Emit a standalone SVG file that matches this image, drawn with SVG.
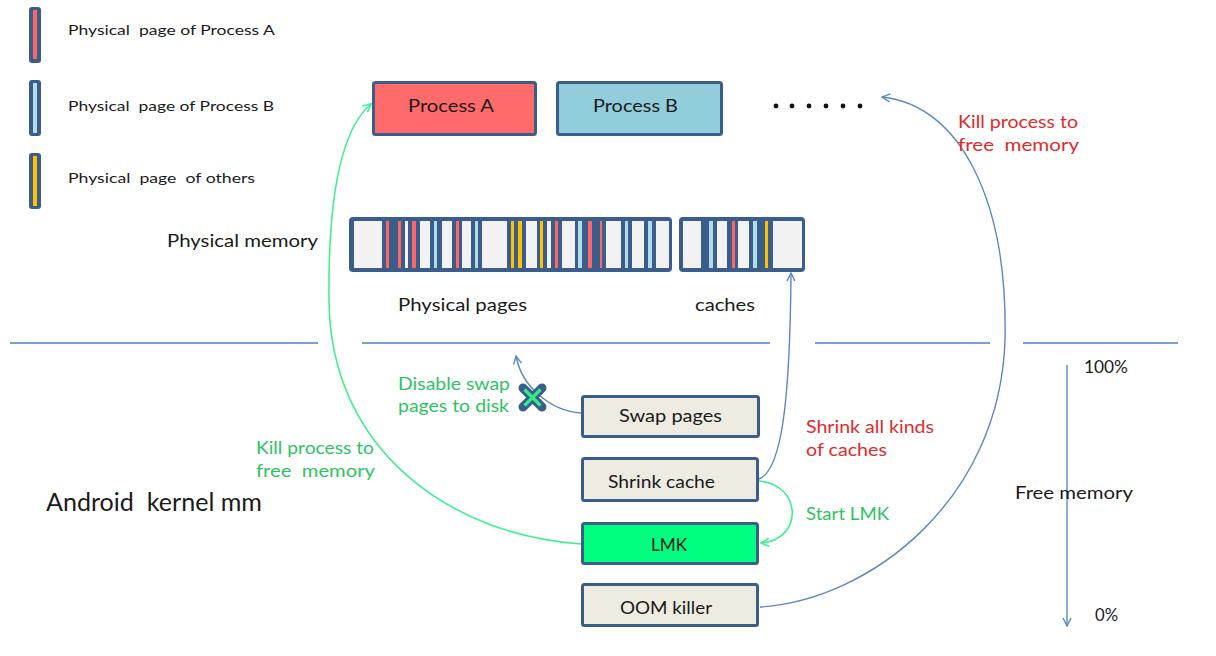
<svg xmlns="http://www.w3.org/2000/svg" width="1216" height="656" viewBox="0 0 1216 656">
  <style>
    text { font-family: Lato, "Open Sans", "Liberation Sans", sans-serif; fill: #1a1a1a; white-space: pre; }
    .leg { font-size: 14px; }
    .lbl { font-size: 17.5px; }
    .big { font-size: 25px; }
    .red { fill: #de2b2b; }
    .grn { fill: #2ec462; }
    .box { stroke: #3b5d8b; stroke-width: 3; }
    .proc-a { fill: #ff6a6a; }
    .proc-b { fill: #92cddc; }
    .plain { fill: #eeece1; }
    .lmk { fill: #00ff80; }
    .bar { fill: #3b5d8b; }
    .cell { fill: #f2f2f2; }
    .pa { fill: #ff6666; }
    .pb { fill: #b0dde9; }
    .po { fill: #ffc000; }
    .blue { fill: none; stroke: #5b87c5; stroke-width: 1.4; }
    .green { fill: none; stroke: #40f090; stroke-width: 1.6; }
    .rule { stroke: #4f81bd; stroke-width: 1.3; }
  </style>
  <defs>
    <marker id="arrow-blue" viewBox="0 0 10 10" refX="9" refY="5" markerWidth="10" markerHeight="10" markerUnits="userSpaceOnUse" orient="auto">
      <path d="M1,1 L9,5 L1,9" fill="none" stroke="#5b87c5" stroke-width="1.4"/>
    </marker>
    <marker id="arrow-green" viewBox="0 0 10 10" refX="9" refY="5" markerWidth="10" markerHeight="10" markerUnits="userSpaceOnUse" orient="auto">
      <path d="M1,1 L9,5 L1,9" fill="none" stroke="#40f090" stroke-width="1.6"/>
    </marker>
  </defs>

  <rect width="1216" height="656" fill="#ffffff"/>

  <!-- legend -->
  <g id="legend">
    <rect x="29" y="7" width="12" height="56" rx="3" class="bar"/>
    <rect x="33" y="10" width="4" height="49" class="pa"/>
    <text x="68" y="35" class="leg" xml:space="preserve" textLength="207" lengthAdjust="spacingAndGlyphs">Physical  page of Process A</text>
    <rect x="29" y="80" width="12" height="56" rx="3" class="bar"/>
    <rect x="33" y="83" width="4" height="50" class="pb"/>
    <text x="68" y="111" class="leg" xml:space="preserve" textLength="206" lengthAdjust="spacingAndGlyphs">Physical  page of Process B</text>
    <rect x="29" y="153" width="12" height="56" rx="3" class="bar"/>
    <rect x="33" y="156" width="4" height="50" class="po"/>
    <text x="68" y="183" class="leg" xml:space="preserve" textLength="187" lengthAdjust="spacingAndGlyphs">Physical  page  of others</text>
  </g>

  <!-- processes -->
  <g id="process-a">
    <rect x="373.5" y="82.5" width="162" height="52" rx="2" class="box proc-a"/>
    <text x="408" y="112" class="lbl" textLength="86" lengthAdjust="spacingAndGlyphs">Process A</text>
  </g>
  <g id="process-b">
    <rect x="557.5" y="82.5" width="164" height="52" rx="2" class="box proc-b"/>
    <text x="593" y="112" class="lbl" textLength="85" lengthAdjust="spacingAndGlyphs">Process B</text>
  </g>
  <g id="more-processes" fill="#111">
    <circle cx="776" cy="106" r="2.4"/>
    <circle cx="792" cy="106" r="2.4"/>
    <circle cx="809" cy="106" r="2.4"/>
    <circle cx="826" cy="106" r="2.4"/>
    <circle cx="843" cy="106" r="2.4"/>
    <circle cx="860" cy="106" r="2.4"/>
  </g>

  <!-- physical memory -->
  <g id="physical-memory">
    <text x="167" y="247" class="lbl" textLength="151" lengthAdjust="spacingAndGlyphs">Physical memory</text>
    <rect x="349" y="217" width="323" height="55" rx="4" class="bar"/>
    <g class="cell">
      <rect x="354" y="221" width="28" height="47"/>
      <rect x="405" y="221" width="3" height="47"/>
      <rect x="420" y="221" width="10" height="47"/>
      <rect x="442" y="221" width="10" height="47"/>
      <rect x="462" y="221" width="9" height="47"/>
      <rect x="482" y="221" width="25" height="47"/>
      <rect x="526" y="221" width="11" height="47"/>
      <rect x="547" y="221" width="4" height="47"/>
      <rect x="562" y="221" width="13" height="47"/>
      <rect x="606" y="221" width="15" height="47"/>
      <rect x="632" y="221" width="12" height="47"/>
      <rect x="656" y="221" width="13" height="47"/>
    </g>
    <g class="pa">
      <rect x="386" y="221" width="3" height="47"/>
      <rect x="398" y="221" width="3" height="47"/>
      <rect x="412" y="221" width="4" height="47"/>
      <rect x="456" y="221" width="3" height="47"/>
      <rect x="555" y="221" width="3" height="47"/>
      <rect x="588" y="221" width="4" height="47"/>
      <rect x="600" y="221" width="2" height="47"/>
    </g>
    <g class="pb">
      <rect x="434" y="221" width="3" height="47"/>
      <rect x="475" y="221" width="3" height="47"/>
      <rect x="578" y="221" width="4" height="47"/>
      <rect x="625" y="221" width="3" height="47"/>
      <rect x="648" y="221" width="4" height="47"/>
    </g>
    <g class="po">
      <rect x="511" y="221" width="3" height="47"/>
      <rect x="518" y="221" width="4" height="47"/>
      <rect x="540" y="221" width="3" height="47"/>
    </g>
    <text x="398" y="311" class="lbl" textLength="129" lengthAdjust="spacingAndGlyphs">Physical pages</text>
  </g>

  <g id="caches">
    <rect x="679" y="217" width="126" height="55" rx="4" class="bar"/>
    <g class="cell">
      <rect x="683" y="221" width="18" height="47"/>
      <rect x="717" y="221" width="10" height="47"/>
      <rect x="738" y="221" width="11" height="47"/>
      <rect x="773" y="221" width="29" height="47"/>
    </g>
    <rect x="709" y="221" width="4" height="47" class="pb"/>
    <rect x="753" y="221" width="4" height="47" class="pb"/>
    <rect x="732" y="221" width="3" height="47" class="pa"/>
    <rect x="765" y="221" width="3" height="47" class="po"/>
    <text x="695" y="311" class="lbl" textLength="60" lengthAdjust="spacingAndGlyphs">caches</text>
  </g>

  <!-- boundary between user space and kernel -->
  <g id="divider">
    <line x1="10" y1="343" x2="318" y2="343" class="rule"/>
    <line x1="362" y1="343" x2="770" y2="343" class="rule"/>
    <line x1="815" y1="343" x2="990" y2="343" class="rule"/>
    <line x1="1023" y1="343" x2="1178" y2="343" class="rule"/>
  </g>

  <g id="kernel-label">
    <text x="46" y="511" class="big" xml:space="preserve" textLength="216" lengthAdjust="spacingAndGlyphs">Android  kernel mm</text>
  </g>

  <!-- kernel mechanisms -->
  <g id="swap-pages">
    <rect x="582.5" y="396.5" width="176" height="40" rx="2" class="box plain"/>
    <text x="619" y="422" class="lbl" textLength="103" lengthAdjust="spacingAndGlyphs">Swap pages</text>
  </g>
  <g id="shrink-cache">
    <rect x="582.5" y="458.5" width="175" height="42" rx="2" class="box plain"/>
    <text x="608" y="488" class="lbl" textLength="107" lengthAdjust="spacingAndGlyphs">Shrink cache</text>
  </g>
  <g id="lmk">
    <rect x="582.5" y="523.5" width="175" height="40" rx="2" class="box lmk"/>
    <text x="651" y="551" class="lbl" textLength="36" lengthAdjust="spacingAndGlyphs">LMK</text>
  </g>
  <g id="oom-killer">
    <rect x="582.5" y="584.5" width="175" height="41" rx="2" class="box plain"/>
    <text x="620" y="614" class="lbl" textLength="92" lengthAdjust="spacingAndGlyphs">OOM killer</text>
  </g>

  <!-- free memory scale -->
  <g id="free-memory-scale">
    <line x1="1067" y1="365" x2="1067" y2="626" class="blue" marker-end="url(#arrow-blue)"/>
    <text x="1084" y="373" class="lbl" textLength="44" lengthAdjust="spacingAndGlyphs">100%</text>
    <text x="1015" y="499" class="lbl" textLength="118" lengthAdjust="spacingAndGlyphs">Free memory</text>
    <text x="1095" y="621" class="lbl" textLength="23" lengthAdjust="spacingAndGlyphs">0%</text>
  </g>

  <!-- connectors -->
  <g id="connectors">
    <path d="M581,544 C450,535 330,450 329,300 C328,200 340,130 371,104" class="green" marker-end="url(#arrow-green)"/>
    <path d="M581,413 C552,411 522,388 516,356" class="blue" marker-end="url(#arrow-blue)"/>
    <path d="M759,479 C782,470 790,400 791,273" class="blue" marker-end="url(#arrow-blue)"/>
    <path d="M759,481 C803,485 803,540 761,543" class="green" marker-end="url(#arrow-green)"/>
    <path d="M760,607 C870,600 1000,500 1005,340 C1008,200 960,105 882,97" class="blue" marker-end="url(#arrow-blue)"/>
    <!-- blocked swap-out path -->
    <g id="swap-blocked">
      <path d="M523,388 L542,407 M542,388 L523,407" stroke="#3b5d8b" stroke-width="9" stroke-linecap="round"/>
      <path d="M524.5,389.5 L540.5,405.5 M540.5,389.5 L524.5,405.5" stroke="#33ee88" stroke-width="3.2"/>
    </g>
  </g>

  <!-- connector labels -->
  <g id="labels">
    <text x="958" y="128" class="lbl red" textLength="120" lengthAdjust="spacingAndGlyphs">Kill process to</text>
    <text x="958" y="151" class="lbl red" xml:space="preserve" textLength="121" lengthAdjust="spacingAndGlyphs">free  memory</text>
    <text x="398" y="390" class="lbl grn" textLength="112" lengthAdjust="spacingAndGlyphs">Disable swap</text>
    <text x="398" y="412" class="lbl grn" textLength="111" lengthAdjust="spacingAndGlyphs">pages to disk</text>
    <text x="806" y="433" class="lbl red" textLength="128" lengthAdjust="spacingAndGlyphs">Shrink all kinds</text>
    <text x="806" y="456" class="lbl red" textLength="81" lengthAdjust="spacingAndGlyphs">of caches</text>
    <text x="806" y="520" class="lbl grn" textLength="83" lengthAdjust="spacingAndGlyphs">Start LMK</text>
    <text x="256" y="454" class="lbl grn" textLength="118" lengthAdjust="spacingAndGlyphs">Kill process to</text>
    <text x="256" y="477" class="lbl grn" xml:space="preserve" textLength="119" lengthAdjust="spacingAndGlyphs">free  memory</text>
  </g>
</svg>
